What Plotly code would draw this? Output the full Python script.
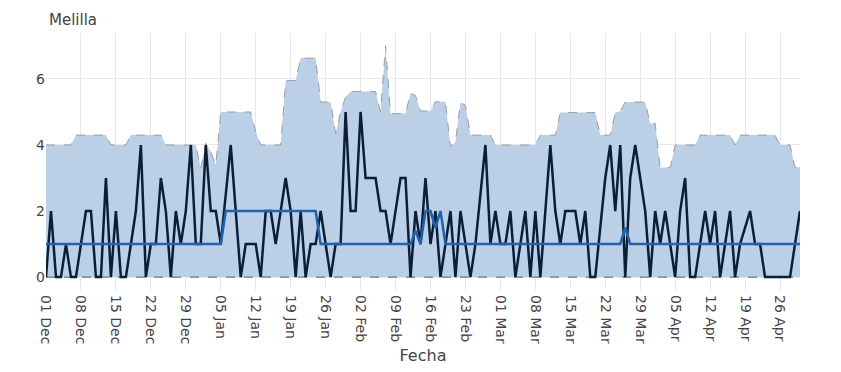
import pandas as pd
import plotly.graph_objects as go

dates = pd.date_range("2019-12-01", "2020-04-30", freq="D")

observed = [0, 2, 0, 0, 1, 0, 0, 1, 2, 2, 0, 0, 3, 0, 2, 0, 0, 1, 2, 4,
            0, 1, 1, 3, 2, 0, 2, 1, 2, 4,
            1, 1, 4, 2, 2, 1, 2.5, 4, 2, 0, 1, 1, 1, 0, 2, 2, 1, 2, 3, 2,
            0, 2, 0, 1, 1, 2, 1, 0, 1, 1,
            5, 2, 2, 5, 3, 3, 3, 2, 2, 1, 2, 3, 3, 0, 2, 1, 3, 1, 2, 0,
            1, 2, 0, 2, 1, 0, 1, 2.5, 4, 1,
            2, 1, 1, 2, 0, 1, 2, 0, 2, 0, 2, 4, 2, 1, 2, 2, 2, 1, 2, 0,
            0, 1.5, 3, 4, 2, 4, 0, 3, 4, 3,
            2, 0, 2, 1, 2, 1, 0, 2, 3, 0, 0, 1, 2, 1, 2, 0, 1, 2, 0, 1,
            1.5, 2, 1, 1, 0, 0, 0, 0, 0, 0, 1, 2]

expected = [1, 1, 1, 1, 1, 1, 1, 1, 1, 1, 1, 1, 1, 1, 1, 1, 1, 1, 1, 1,
            1, 1, 1, 1, 1, 1, 1, 1, 1, 1, 1, 1, 1, 1, 1, 1,
            2, 2, 2, 2, 2, 2, 2, 2, 2, 2, 2, 2, 2, 2, 2, 2, 2, 2, 2,
            1, 1, 1, 1, 1, 1, 1, 1, 1, 1, 1, 1, 1, 1, 1, 1, 1, 1, 1,
            1.4, 1, 2, 2, 1.5, 2,
            1, 1, 1, 1, 1, 1, 1, 1, 1, 1, 1, 1, 1, 1, 1, 1, 1, 1, 1, 1,
            1, 1, 1, 1, 1, 1, 1, 1, 1, 1, 1, 1, 1, 1, 1, 1,
            1.5,
            1, 1, 1, 1, 1, 1, 1, 1, 1, 1, 1, 1, 1, 1, 1, 1, 1, 1, 1, 1,
            1, 1, 1, 1, 1, 1, 1, 1, 1, 1, 1, 1, 1, 1, 1]

upper = [4.0, 4.0, 4.0, 4.0, 4.0, 4.0,
         4.3, 4.3, 4.3, 4.3, 4.3, 4.3, 4.3,
         4.0, 4.0, 4.0, 4.0,
         4.3, 4.3, 4.3, 4.3, 4.3, 4.3, 4.3,
         4.0, 4.0, 4.0, 4.0, 4.0, 4.0, 4.0,
         3.3, 4.05, 3.8, 3.4,
         5.0, 5.0, 5.0, 5.0, 5.0, 5.0, 5.0,
         4.4,
         4.0, 4.0, 4.0, 4.0, 4.0,
         5.95, 5.95, 5.95,
         6.63, 6.63, 6.63, 6.63,
         5.3, 5.3, 5.3,
         4.35, 5.0, 5.45,
         5.62, 5.62, 5.62, 5.62, 5.62, 5.62,
         5.0, 7.0,
         4.95, 4.95, 4.95, 4.95,
         5.57, 5.5,
         5.03, 5.03, 5.03,
         5.31, 5.31, 5.31,
         3.95, 4.1, 5.28, 5.2,
         4.3, 4.3, 4.3, 4.3, 4.3,
         4.0, 4.0, 4.0, 4.0, 4.0, 4.0, 4.0, 4.0, 4.0,
         4.3, 4.3, 4.3, 4.3,
         4.98, 4.98, 4.98, 4.98, 4.98, 4.98, 4.98, 4.98,
         4.3, 4.3, 4.3,
         4.98, 5.02,
         5.3, 5.3, 5.3, 5.3, 5.3,
         4.65, 4.65,
         3.32, 3.32, 3.32,
         4.0, 4.0, 4.0, 4.0, 4.0,
         4.3, 4.3, 4.3, 4.3, 4.3, 4.3, 4.3,
         4.0,
         4.3, 4.3, 4.3, 4.3, 4.3, 4.3, 4.3, 4.3,
         4.0, 4.0, 4.0,
         3.32, 3.32]

lower = [0] * len(dates)

fig = go.Figure()
fig.add_trace(go.Scatter(x=dates, y=lower, mode="lines",
                         line=dict(color="rgba(60,60,60,0.8)", width=1, dash="dash"),
                         showlegend=False, hoverinfo="skip"))
fig.add_trace(go.Scatter(x=dates, y=upper, mode="lines", fill="tonexty",
                         fillcolor="rgb(187,208,230)",
                         line=dict(color="rgba(140,140,140,0.8)", width=1, dash="dash"),
                         showlegend=False))
fig.add_trace(go.Scatter(x=dates, y=observed, mode="lines",
                         line=dict(color="#0b1e38", width=2.5),
                         showlegend=False))
fig.add_trace(go.Scatter(x=dates, y=expected, mode="lines",
                         line=dict(color="#2163a8", width=2.5),
                         showlegend=False))

fig.update_layout(
    width=841, height=372,
    margin=dict(l=38, r=49, t=25, b=90, autoexpand=False),
    paper_bgcolor="white", plot_bgcolor="white",
    font=dict(family="DejaVu Sans", color="#444", size=14),
    title=dict(text="Melilla", x=41 / 841, xref="container", xanchor="left",
               y=1 - 12 / 372, yref="container", yanchor="middle",
               font=dict(size=15, color="#444")),
    showlegend=False,
)
fig.update_xaxes(
    range=[dates[0], dates[-1]], automargin=False,
    tickmode="linear", tick0="2019-12-01", dtick=7 * 24 * 3600 * 1000,
    tickformat="%d %b", tickangle=90, ticklabelstandoff=4,
    showgrid=True, gridcolor="#e8e8e8", zeroline=False, showline=False,
    title=dict(text="Fecha", font=dict(size=16, color="#444"), standoff=6),
    tickfont=dict(size=14, color="#444"),
)
fig.update_yaxes(
    range=[-0.39, 7.39], tickvals=[0, 2, 4, 6], automargin=False,
    showgrid=True, gridcolor="#e8e8e8", zeroline=False, showline=False,
    tickfont=dict(size=14, color="#444"),
)

fig.write_html("out.html")
